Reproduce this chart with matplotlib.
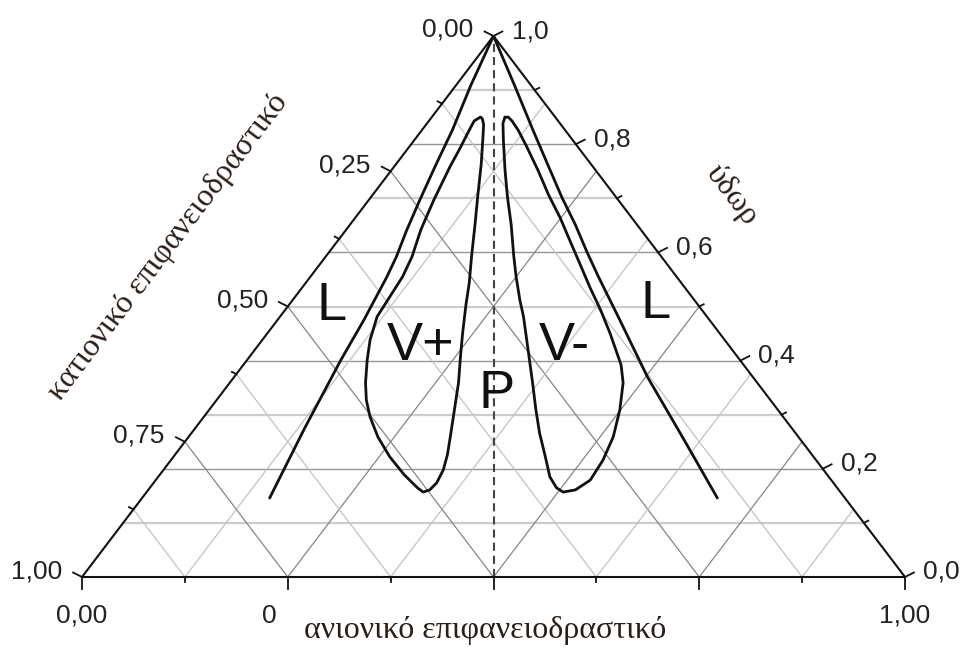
import numpy as np
import matplotlib
matplotlib.use('Agg')
import matplotlib.pyplot as plt

plt.rcParams['font.family'] = ['Liberation Sans', 'DejaVu Sans']

# Phase boundaries, as (anionic fraction, water fraction); cationic = 1 - a - w
l_left_anion = [0.000, 0.018, 0.037, 0.049, 0.062, 0.074, 0.086, 0.093, 0.105, 0.114, 0.133, 0.155]
l_left_water = [1.000, 0.909, 0.826, 0.762, 0.697, 0.641, 0.592, 0.555, 0.475, 0.401, 0.275, 0.146]

l_right_anion = [0.000, 0.071, 0.135, 0.185, 0.232, 0.274, 0.313, 0.350, 0.416, 0.502, 0.600, 0.699]
l_right_water = [1.000, 0.909, 0.826, 0.762, 0.702, 0.651, 0.601, 0.555, 0.475, 0.370, 0.259, 0.146]

# V+ vesicle region (closed loop)
vplus_anion = [0.059, 0.055, 0.058, 0.063, 0.068, 0.079, 0.091, 0.105, 0.112, 0.115,
               0.118, 0.131, 0.146, 0.165, 0.182, 0.202, 0.230, 0.263, 0.297, 0.325,
               0.336, 0.342, 0.344, 0.340, 0.331, 0.318, 0.298, 0.278, 0.255, 0.237,
               0.215, 0.199, 0.176, 0.152, 0.128, 0.104, 0.083, 0.070, 0.063]
vplus_water = [0.850, 0.843, 0.823, 0.793, 0.758, 0.697, 0.641, 0.592, 0.555, 0.518,
               0.481, 0.438, 0.401, 0.359, 0.327, 0.296, 0.259, 0.222, 0.189, 0.165,
               0.157, 0.161, 0.174, 0.198, 0.226, 0.259, 0.309, 0.359, 0.410, 0.451,
               0.503, 0.543, 0.595, 0.651, 0.706, 0.762, 0.808, 0.836, 0.847]

# V- vesicle region (closed loop)
vminus_anion = [0.089, 0.092, 0.108, 0.138, 0.166, 0.196, 0.227, 0.250, 0.276, 0.296,
                0.332, 0.368, 0.397, 0.423, 0.452, 0.476, 0.494, 0.506, 0.519, 0.528,
                0.525, 0.516, 0.499, 0.478, 0.459, 0.443, 0.416, 0.383, 0.349, 0.317,
                0.281, 0.249, 0.214, 0.178, 0.143, 0.117, 0.101, 0.093]
vminus_water = [0.850, 0.839, 0.808, 0.752, 0.702, 0.651, 0.595, 0.555, 0.512, 0.481,
                0.420, 0.359, 0.309, 0.266, 0.222, 0.185, 0.165, 0.157, 0.161, 0.179,
                0.216, 0.259, 0.309, 0.359, 0.392, 0.414, 0.451, 0.494, 0.536, 0.577,
                0.623, 0.664, 0.706, 0.752, 0.795, 0.826, 0.843, 0.850]

cation_ticks = [0.00, 0.25, 0.50, 0.75, 1.00]
cation_labels = ['0,00', '0,25', '0,50', '0,75', '1,00']
water_ticks = [0.0, 0.2, 0.4, 0.6, 0.8, 1.0]
water_labels = ['0,0', '0,2', '0,4', '0,6', '0,8', '1,0']
anion_ticks = [0.00, 1.00]
anion_labels = ['0,00', '1,00']


def to_xy(anion, water):
    anion = np.asarray(anion, dtype=float)
    water = np.asarray(water, dtype=float)
    return anion + water / 2, water


fig = plt.figure(figsize=(9.63, 6.5), dpi=100)
ax = fig.add_axes([82 / 963, 73 / 650, 823 / 963, 541 / 650])
ax.set_xlim(0, 1)
ax.set_ylim(0, 1)
ax.axis('off')

# size of one pixel in data units
px = 1 / 823
py = 1 / 541

# grid: water every 0.1, the two surfactants every 1/8
for k in range(1, 10):
    w = k / 10
    even = k % 2 == 0
    ax.plot([w / 2, 1 - w / 2], [w, w], color='#959595' if even else '#cccccc',
            lw=1.0 if even else 1.6, zorder=1)
for k in range(1, 8):
    f = k / 8
    col = '#858585' if k % 2 == 0 else '#c2c2c2'
    ax.plot([f, (1 + f) / 2], [0, 1 - f], color=col, lw=0.9, zorder=1)
    ax.plot([1 - f, (1 - f) / 2], [0, 1 - f], color=col, lw=0.9, zorder=1)

# equimolar line
ax.plot([0.5, 0.5], [0, 1], color='#444444', lw=1.5, ls=(0, (3.9, 2.4)), zorder=2)

# triangle
ax.plot([0, 1, 0.5, 0], [0, 0, 1, 0], color='#111111', lw=1.5, zorder=3, clip_on=False)

# ticks
tick_col = '#111111'
for k in range(9):
    x = k / 8
    ln = 12 if k % 2 == 0 else 5
    ax.plot([x, x], [0, -ln * py], color=tick_col, lw=1.3, clip_on=False)
for k in range(9):
    c = k / 8
    x, y = (1 - c) / 2, 1 - c
    ln = 10 if k % 2 == 0 else 5
    ax.plot([x, x - 0.89 * ln * px], [y, y + 0.45 * ln * py], color=tick_col, lw=1.3, clip_on=False)
for k in range(11):
    w = k / 10
    x, y = 1 - w / 2, w
    ln = 10 if k % 2 == 0 else 5
    ax.plot([x, x + 0.89 * ln * px], [y, y + 0.45 * ln * py], color=tick_col, lw=1.3, clip_on=False)

# tick labels
fs = 19
for c, lab in zip(cation_ticks, cation_labels):
    ax.annotate(lab, ((1 - c) / 2, 1 - c), xytext=(-20, -1), textcoords='offset pixels',
                ha='right', va='baseline', fontsize=fs, color='#222222')
for w, lab in zip(water_ticks, water_labels):
    ax.annotate(lab, (1 - w / 2, w), xytext=(18, -2), textcoords='offset pixels',
                ha='left', va='baseline', fontsize=fs, color='#222222')
for a, lab in zip(anion_ticks, anion_labels):
    ax.annotate(lab, (a, 0), xytext=(0, -46), textcoords='offset pixels',
                ha='center', va='baseline', fontsize=fs, color='#222222')
ax.annotate('0', (0.25, 0), xytext=(-26, -46), textcoords='offset pixels',
            ha='left', va='baseline', fontsize=fs, color='#222222')

# phase boundaries
line_kw = dict(color='#111111', lw=2.0, solid_joinstyle='round', solid_capstyle='round', zorder=4)
ax.plot(*to_xy(l_left_anion, l_left_water), **line_kw)
ax.plot(*to_xy(l_right_anion, l_right_water), **line_kw)
ax.plot(*to_xy(vplus_anion + vplus_anion[:1], vplus_water + vplus_water[:1]), **line_kw)
ax.plot(*to_xy(vminus_anion + vminus_anion[:1], vminus_water + vminus_water[:1]), **line_kw)

# region names
big = dict(fontsize=39, color='#111111', ha='center', va='baseline', zorder=5)
ax.text(0.303, 0.475, 'L', **big)
ax.text(0.697, 0.479, 'L', **big)
ax.text(0.411, 0.401, 'V+', **big)
ax.text(0.586, 0.401, 'V-', **big)
ax.text(0.504, 0.312, 'P', **big)

# component names
edge_angle = np.degrees(np.arctan2(541, 411))
title_kw = dict(family=['Liberation Serif', 'DejaVu Serif'], fontsize=23, color='#2a1e18',
                ha='center', va='center', rotation_mode='anchor')
ax.text(0.1045, 0.61, 'κατιονικό επιφανειοδραστικό', rotation=edge_angle, **title_kw)
ax.text(0.7898, 0.706, 'ύδωρ', rotation=-edge_angle, **title_kw)
ax.text(0.4897, -0.098, 'ανιονικό επιφανειοδραστικό', **title_kw)

fig.savefig('out.png', dpi=100)
